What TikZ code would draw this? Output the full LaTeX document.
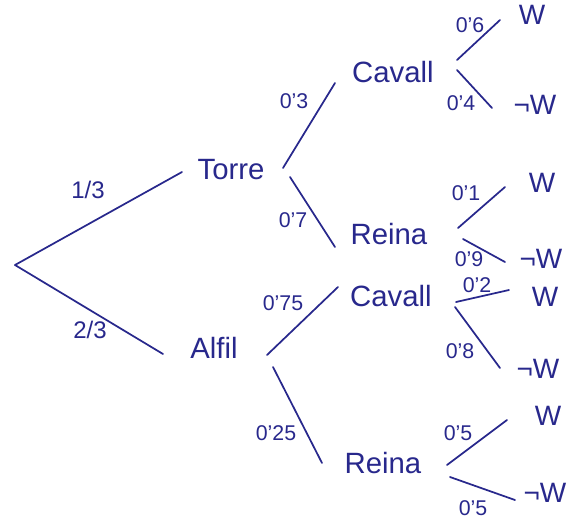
\documentclass[tikz,border=0pt]{standalone}
\usepackage{fontspec}
\setmainfont{Liberation Sans}
\usetikzlibrary{calc}
\definecolor{ink}{RGB}{40,40,140}

\begin{document}
\begin{tikzpicture}[
  x=0.75pt, y=-0.75pt,
  every node/.style={text=ink, inner sep=0pt},
  event/.style  = {font=\fontsize{22}{24}\selectfont},
  leaf/.style   = {font=\fontsize{21}{23}\selectfont},
  prob/.style   = {font=\fontsize{16}{18}\selectfont},
  first/.style  = {font=\fontsize{18}{20}\selectfont},
  branch/.style = {draw=ink, line width=1.3pt, line cap=round},
]
  \useasboundingbox (0,0) rectangle (586,519);
  % Events: root, first draw, second draw, outcome.
  \coordinate (root) at (15,265);
  \node[event] (torre)  at (231,170) {Torre};
  \node[event] (alfil)  at (214,348) {Alfil};
  \node[event] (cavA)   at (393,72)  {Cavall};
  \node[event] (reinaA) at (389,234) {Reina};
  \node[event] (cavB)   at (391,296) {Cavall};
  \node[event] (reinaB) at (383,463) {Reina};
  \node[leaf]  (wAA)  at (532,15)  {W};
  \node[leaf]  (nwAA) at (535,105) {¬W};
  \node[leaf]  (wAB)  at (542,183) {W};
  \node[leaf]  (nwAB) at (541,259) {¬W};
  \node[leaf]  (wBA)  at (545,297) {W};
  \node[leaf]  (nwBA) at (538,369) {¬W};
  \node[leaf]  (wBB)  at (548,416) {W};
  \node[leaf]  (nwBB) at (545,493) {¬W};
  % Branches, each a loose stroke between two events.
  \draw[branch] (root) -- ($(torre)+(-49,2)$);
  \draw[branch] (root) -- ($(alfil)+(-51,6)$);
  \draw[branch] ($(torre)+(52,-2)$) -- ($(cavA)+(-58,11)$);
  \draw[branch] ($(torre)+(59,7)$)  -- ($(reinaA)+(-54,13)$);
  \draw[branch] ($(alfil)+(53,7)$)  -- ($(cavB)+(-53,-9)$);
  \draw[branch] ($(alfil)+(59,19)$) -- ($(reinaB)+(-61,0)$);
  \draw[branch] ($(cavA)+(64,-12)$) -- ($(wAA)+(-32,5)$);
  \draw[branch] ($(cavA)+(64,-2)$)  -- ($(nwAA)+(-43,3)$);
  \draw[branch] ($(reinaA)+(69,-6)$) -- ($(wAB)+(-37,4)$);
  \draw[branch] ($(reinaA)+(74,5)$)  -- ($(nwAB)+(-36,3)$);
  \draw[branch] ($(cavB)+(65,6)$)   -- ($(wBA)+(-36,-7)$);
  \draw[branch] ($(cavB)+(64,11)$)  -- ($(nwBA)+(-38,-1)$);
  \draw[branch] ($(reinaB)+(64,2)$) -- ($(wBB)+(-41,4)$);
  \draw[branch] ($(reinaB)+(67,14)$) -- ($(nwBB)+(-30,7)$);
  % Probabilities.
  \node[first] (p13) at (88,190) {1/3};
  \node[first] (p23) at (90,330) {2/3};
  \node[prob] (pTC) at (294,101) {0'3};
  \node[prob] (pTR) at (293,220) {0'7};
  \node[prob] (pAC) at (283,303) {0'75};
  \node[prob] (pAR) at (276,433) {0'25};
  \node[prob] (pCAw)  at (470,25)  {0'6};
  \node[prob] (pCAnw) at (461,103) {0'4};
  \node[prob] (pRAw)  at (466,193) {0'1};
  \node[prob] (pRAnw) at (469,259) {0'9};
  \node[prob] (pCBw)  at (477,285) {0'2};
  \node[prob] (pCBnw) at (460,351) {0'8};
  \node[prob] (pRBw)  at (458,433) {0'5};
  \node[prob] (pRBnw) at (473,508) {0'5};
\end{tikzpicture}
\end{document}
